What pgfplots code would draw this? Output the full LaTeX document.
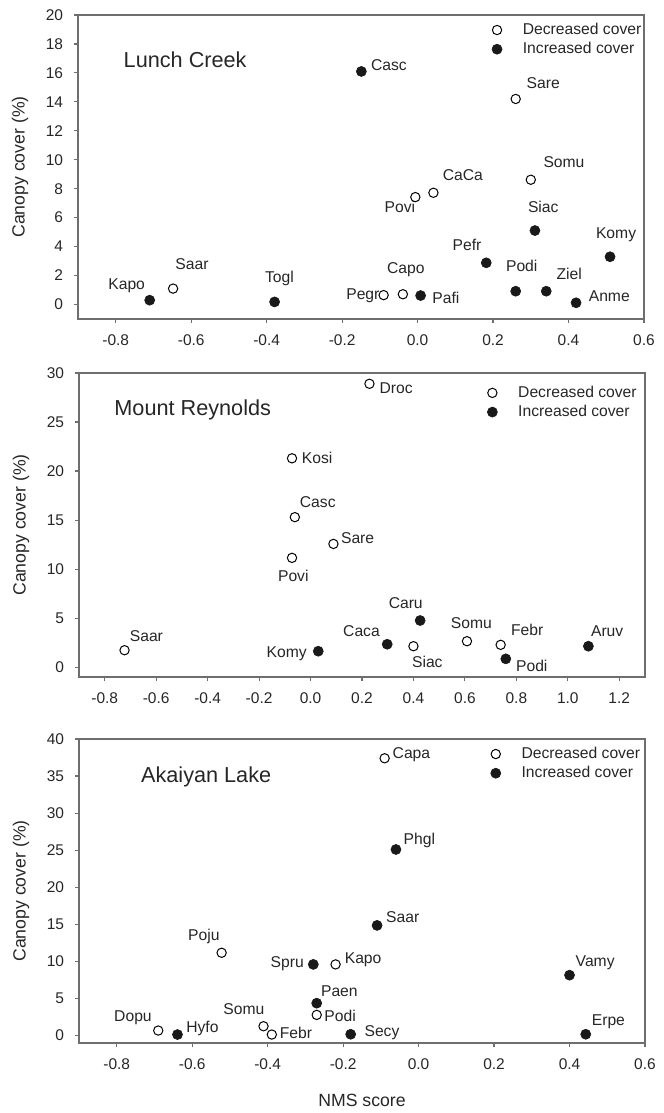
\documentclass[border=0pt]{standalone}
\usepackage{fontspec}
\setmainfont{Liberation Sans}
\usepackage{pgfplots}
\pgfplotsset{compat=1.18}
\definecolor{axgray}{HTML}{6E6E6E}
\definecolor{txt}{HTML}{262626}
\tikzset{
  lbl/.style={font=\fontsize{9.4}{11}\selectfont, text=txt, inner sep=0pt, anchor=center},
  ttl/.style={font=\fontsize{13}{15}\selectfont, text=txt, inner sep=0pt, anchor=center},
}
\pgfplotsset{
  panel/.style={
    scale only axis, width=339.6pt, height=182.4pt,
    clip=false,
    axis line style={axgray, line width=0.7pt},
    tick style={axgray, line width=0.7pt},
    tick align=outside, major tick length=2.4pt,
    xtick pos=bottom, ytick pos=left,
    minor tick num=0,
    /pgf/number format/assume math mode=true,
    tick label style={font=\fontsize{9.3}{11}\selectfont, text=txt},
    xticklabel style={yshift=-3.5pt, /pgf/number format/.cd, fixed, fixed zerofill, precision=1},
    yticklabel style={xshift=-3pt},
    ylabel={Canopy cover (\%)},
    ylabel style={at={(axis description cs:-0.1025,0.5)}, anchor=center, font=\fontsize{10.6}{12}\selectfont, text=txt},
    xlabel style={font=\fontsize{10.6}{12}\selectfont, text=txt},
    legend image code/.code={\path[draw=none,fill=none] (-4pt,-4pt) rectangle (15.5pt,4pt); \draw[##1] plot coordinates {(0pt,0pt)};},
    legend style={draw=none, fill=none, inner sep=0pt, font=\fontsize{9.4}{11}\selectfont, text=txt, row sep=3.2pt, nodes={inner sep=0pt}},
    legend cell align=left,
  },
  dec/.style={only marks, mark=*, mark size=2.8pt, mark options={draw=black, fill=white, line width=0.6pt}},
  inc/.style={only marks, mark=*, mark size=3.0pt, mark options={draw=black!90, fill=black!90}},
}
\begin{document}
\begin{tikzpicture}
\useasboundingbox (0,0) rectangle (398.4pt,667.8pt);
% ---------------- Lunch Creek ----------------
\begin{axis}[panel, at={(46.8pt,476.4pt)}, anchor=south west,
  xmin=-0.9, xmax=0.6, ymin=-1, ymax=20,
  xtick={-0.8,-0.6,...,0.61}, ytick={0,2,...,20},
  legend style={at={(0.728,0.919)}, anchor=west}]
\addplot[dec] coordinates {(-0.648,1.1) (-0.09,0.65) (-0.039,0.71) (-0.006,7.42) (0.042,7.72) (0.26,14.2) (0.30,8.62)};
\addlegendentry{Decreased cover}
\addplot[inc] coordinates {(-0.71,0.3) (-0.379,0.18) (-0.149,16.1) (0.008,0.62) (0.182,2.88) (0.311,5.11) (0.26,0.92) (0.341,0.92) (0.42,0.12) (0.51,3.3)};
\addlegendentry{Increased cover}
\node[ttl] at (axis cs:-0.616,16.94) {Lunch Creek};
\node[lbl] at (axis cs:-0.076,16.52) {Casc};
\node[lbl] at (axis cs:0.333,15.32) {Sare};
\node[lbl] at (axis cs:0.388,9.86) {Somu};
\node[lbl] at (axis cs:0.120,8.94) {CaCa};
\node[lbl] at (axis cs:-0.047,6.75) {Povi};
\node[lbl] at (axis cs:0.333,6.75) {Siac};
\node[lbl] at (axis cs:0.526,4.79) {Komy};
\node[lbl] at (axis cs:0.131,4.10) {Pefr};
\node[lbl] at (axis cs:0.276,2.67) {Podi};
\node[lbl] at (axis cs:0.402,2.14) {Ziel};
\node[lbl] at (axis cs:0.508,0.58) {Anme};
\node[lbl] at (axis cs:-0.031,2.42) {Capo};
\node[lbl] at (axis cs:-0.145,0.58) {Pegr};
\node[lbl] at (axis cs:0.075,0.46) {Pafi};
\node[lbl] at (axis cs:-0.366,1.80) {Togl};
\node[lbl] at (axis cs:-0.598,2.76) {Saar};
\node[lbl] at (axis cs:-0.771,1.29) {Kapo};
\end{axis}
% ---------------- Mount Reynolds ----------------
\begin{axis}[panel, at={(47.4pt,261.6pt)}, anchor=south west,
  xmin=-0.9, xmax=1.3, ymin=-1, ymax=30,
  xtick={-0.8,-0.6,...,1.21}, ytick={0,5,...,30},
  legend style={at={(0.718,0.903)}, anchor=west}]
\addplot[dec] coordinates {(0.229,28.9) (-0.072,21.3) (-0.061,15.3) (0.089,12.57) (-0.072,11.15) (-0.723,1.73) (0.40,2.14) (0.608,2.65) (0.739,2.28)};
\addlegendentry{Decreased cover}
\addplot[inc] coordinates {(0.03,1.63) (0.298,2.34) (0.426,4.76) (0.759,0.85) (1.08,2.14)};
\addlegendentry{Increased cover}
\node[ttl] at (axis cs:-0.458,26.27) {Mount Reynolds};
\node[lbl] at (axis cs:0.333,28.47) {Droc};
\node[lbl] at (axis cs:0.026,21.34) {Kosi};
\node[lbl] at (axis cs:0.028,16.82) {Casc};
\node[lbl] at (axis cs:0.183,13.18) {Sare};
\node[lbl] at (axis cs:-0.067,9.28) {Povi};
\node[lbl] at (axis cs:-0.638,3.16) {Saar};
\node[lbl] at (axis cs:-0.093,1.39) {Komy};
\node[lbl] at (axis cs:0.198,3.67) {Caca};
\node[lbl] at (axis cs:0.370,6.49) {Caru};
\node[lbl] at (axis cs:0.454,0.51) {Siac};
\node[lbl] at (axis cs:0.625,4.45) {Somu};
\node[lbl] at (axis cs:0.842,3.77) {Febr};
\node[lbl] at (axis cs:0.860,0.17) {Podi};
\node[lbl] at (axis cs:1.153,3.67) {Aruv};
\end{axis}
% ---------------- Akaiyan Lake ----------------
\begin{axis}[panel, at={(47.4pt,42pt)}, anchor=south west,
  xmin=-0.9, xmax=0.6, ymin=-1, ymax=40,
  xtick={-0.8,-0.6,...,0.61}, ytick={0,5,...,40},
  xlabel={NMS score},
  xlabel style={at={(axis description cs:0.5,-0.1875)}, anchor=center},
  legend style={at={(0.724,0.919)}, anchor=west}]
\addplot[dec] coordinates {(-0.09,37.4) (-0.522,11.17) (-0.22,9.6) (-0.27,2.79) (-0.69,0.68) (-0.411,1.26) (-0.389,0.14)};
\addlegendentry{Decreased cover}
\addplot[inc] coordinates {(-0.06,25.1) (-0.11,14.86) (-0.279,9.6) (0.40,8.15) (-0.27,4.37) (-0.639,0.14) (-0.18,0.18) (0.443,0.18)};
\addlegendentry{Increased cover}
\node[ttl] at (axis cs:-0.563,34.95) {Akaiyan Lake};
\node[lbl] at (axis cs:-0.019,37.84) {Capa};
\node[lbl] at (axis cs:0.002,26.26) {Phgl};
\node[lbl] at (axis cs:-0.042,16.04) {Saar};
\node[lbl] at (axis cs:-0.569,13.42) {Poju};
\node[lbl] at (axis cs:-0.348,9.68) {Spru};
\node[lbl] at (axis cs:-0.147,10.27) {Kapo};
\node[lbl] at (axis cs:0.468,9.82) {Vamy};
\node[lbl] at (axis cs:-0.210,5.99) {Paen};
\node[lbl] at (axis cs:-0.208,2.61) {Podi};
\node[lbl] at (axis cs:-0.757,2.39) {Dopu};
\node[lbl] at (axis cs:-0.573,0.95) {Hyfo};
\node[lbl] at (axis cs:-0.463,3.51) {Somu};
\node[lbl] at (axis cs:-0.325,0.36) {Febr};
\node[lbl] at (axis cs:-0.097,0.36) {Secy};
\node[lbl] at (axis cs:0.503,1.85) {Erpe};
\end{axis}
\end{tikzpicture}
\end{document}
